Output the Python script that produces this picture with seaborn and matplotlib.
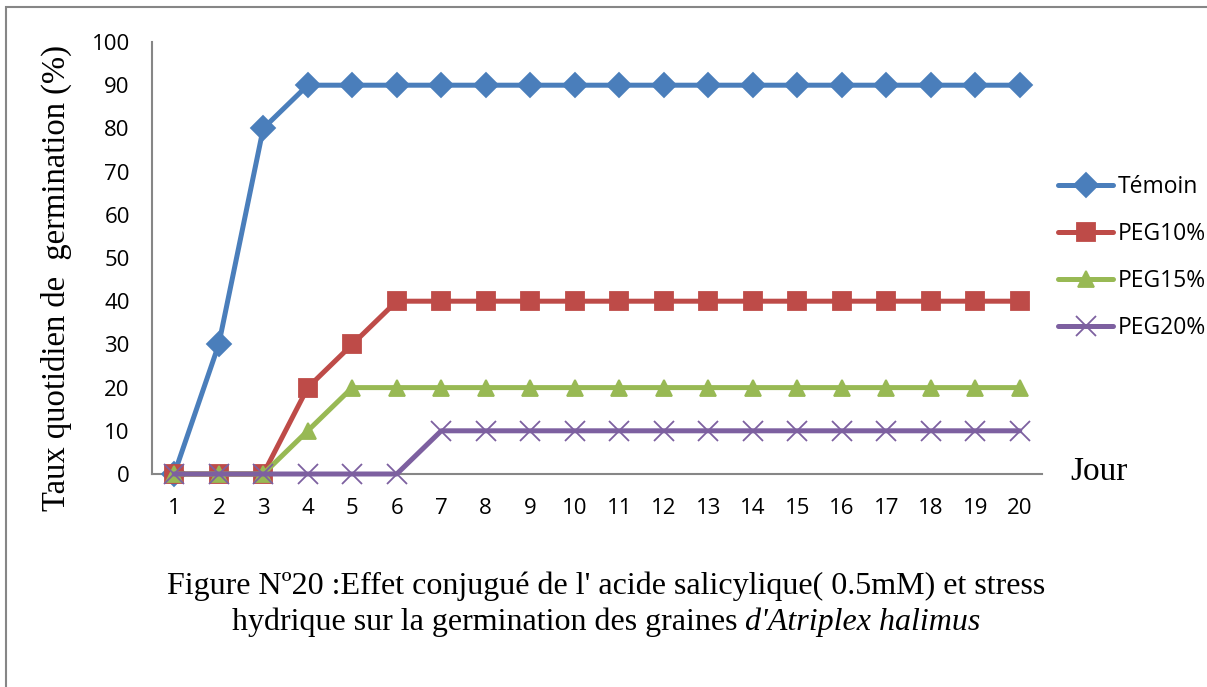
import matplotlib
matplotlib.use("Agg")
import matplotlib.pyplot as plt
import seaborn as sns
import pandas as pd
import numpy as np
from matplotlib.patches import Rectangle

days = list(range(1, 21))
temoin = [0, 30, 80, 90, 90, 90, 90, 90, 90, 90, 90, 90, 90, 90, 90, 90, 90, 90, 90, 90]
peg10 = [0, 0, 0, 20, 30, 40, 40, 40, 40, 40, 40, 40, 40, 40, 40, 40, 40, 40, 40, 40]
peg15 = [0, 0, 0, 10, 20, 20, 20, 20, 20, 20, 20, 20, 20, 20, 20, 20, 20, 20, 20, 20]
peg20 = [0, 0, 0, 0, 0, 0, 10, 10, 10, 10, 10, 10, 10, 10, 10, 10, 10, 10, 10, 10]
series_names = ["Témoin", "PEG10%", "PEG15%", "PEG20%"]
y_ticks = list(range(0, 101, 10))

sns.set_theme(style="white")
plt.rcParams['font.family'] = ['DejaVu Sans']
plt.rcParams['text.color'] = 'black'
plt.rcParams['xtick.color'] = 'black'
plt.rcParams['ytick.color'] = 'black'

df = pd.DataFrame({
    "Jour": days * 4,
    "Taux": temoin + peg10 + peg15 + peg20,
    "Série": sum([[n] * len(days) for n in series_names], []),
})

colors = {"Témoin": "#4A7EBB", "PEG10%": "#BE4B48", "PEG15%": "#98B954", "PEG20%": "#7D60A0"}
markers = {"Témoin": "D", "PEG10%": "s", "PEG15%": "^", "PEG20%": "x"}
msizes = {"Témoin": 12, "PEG10%": 13, "PEG15%": 12, "PEG20%": 15}

W, H = 1207, 687
fig = plt.figure(figsize=(W / 100, H / 100), dpi=100)
ax = fig.add_axes([152 / W, 1 - 474 / H, (1042 - 152) / W, (474 - 42) / H])

for i, name in enumerate(series_names):
    sub = df[df["Série"] == name]
    sns.lineplot(data=sub, x="Jour", y="Taux", ax=ax, color=colors[name],
                 linewidth=3.6, marker=markers[name], markersize=msizes[name],
                 markeredgewidth=1.3,
                 markeredgecolor=colors[name], label=name, zorder=3 + i,
                 clip_on=False)

ax.set_xlim(0.5, 20.5)
ax.set_ylim(0, 100)
ax.set_yticks(y_ticks)
ax.set_yticklabels([str(v) for v in y_ticks], fontsize=16, family="Open Sans")
ax.set_xticks(days)
ax.set_xticklabels([str(d) for d in days], fontsize=16, family="Open Sans")
ax.set_xticks(np.arange(0.5, 21, 1), minor=True)
ax.tick_params(axis="x", which="major", length=0, pad=17)
ax.tick_params(axis="x", which="minor", length=6, width=1.5, color="#868686", direction="out")
ax.tick_params(axis="y", which="major", length=6, width=1.5, color="#868686", direction="out", pad=10)
for side in ["top", "right"]:
    ax.spines[side].set_visible(False)
for side in ["left", "bottom"]:
    ax.spines[side].set_color("#868686")
    ax.spines[side].set_linewidth(1.5)
ax.set_xlabel("")
ax.set_ylabel("")
fig.text(56 / W, 1 - 278 / H, "Taux quotidien de  germination (%)", family="Liberation Serif",
         fontsize=23.5, rotation=90, ha="center", va="center")

leg = ax.legend(loc="upper left", bbox_to_anchor=(1058 / W, 1 - 175 / H),
                bbox_transform=fig.transFigure, frameon=False,
                prop={"family": "Open Sans", "size": 16.5}, handlelength=2.4,
                labelspacing=1.0, handletextpad=0.2, borderaxespad=0.0, borderpad=0.0)

fig.text(1070 / W, 1 - 472 / H, "Jour", family="Liberation Serif", fontsize=24,
         ha="left", va="center")

fig.text(606 / W, 1 - 586 / H,
         "Figure Nº20 :Effet conjugué de l' acide salicylique( 0.5mM) et stress",
         family="Liberation Serif", fontsize=23, ha="center", va="center")
t1 = fig.text(0, 1 - 622 / H, "hydrique sur la germination des graines ",
              family="Liberation Serif", fontsize=23, ha="left", va="center")
t2 = fig.text(0, 1 - 622 / H, "d'Atriplex halimus", family="Liberation Serif",
              fontsize=23, style="italic", ha="left", va="center")
fig.canvas.draw()
renderer = fig.canvas.get_renderer()
w1 = t1.get_window_extent(renderer).width
w2 = t2.get_window_extent(renderer).width
cx = 606
start = cx - (w1 + w2) / 2
t1.set_x(start / W)
t2.set_x((start + w1) / W)

fig.patches.append(Rectangle((6 / W, -0.1), 1.2, (1 - 7 / H) + 0.1, transform=fig.transFigure,
                             fill=False, edgecolor="#868686", linewidth=1.5))

fig.savefig("out.png", dpi=100)
